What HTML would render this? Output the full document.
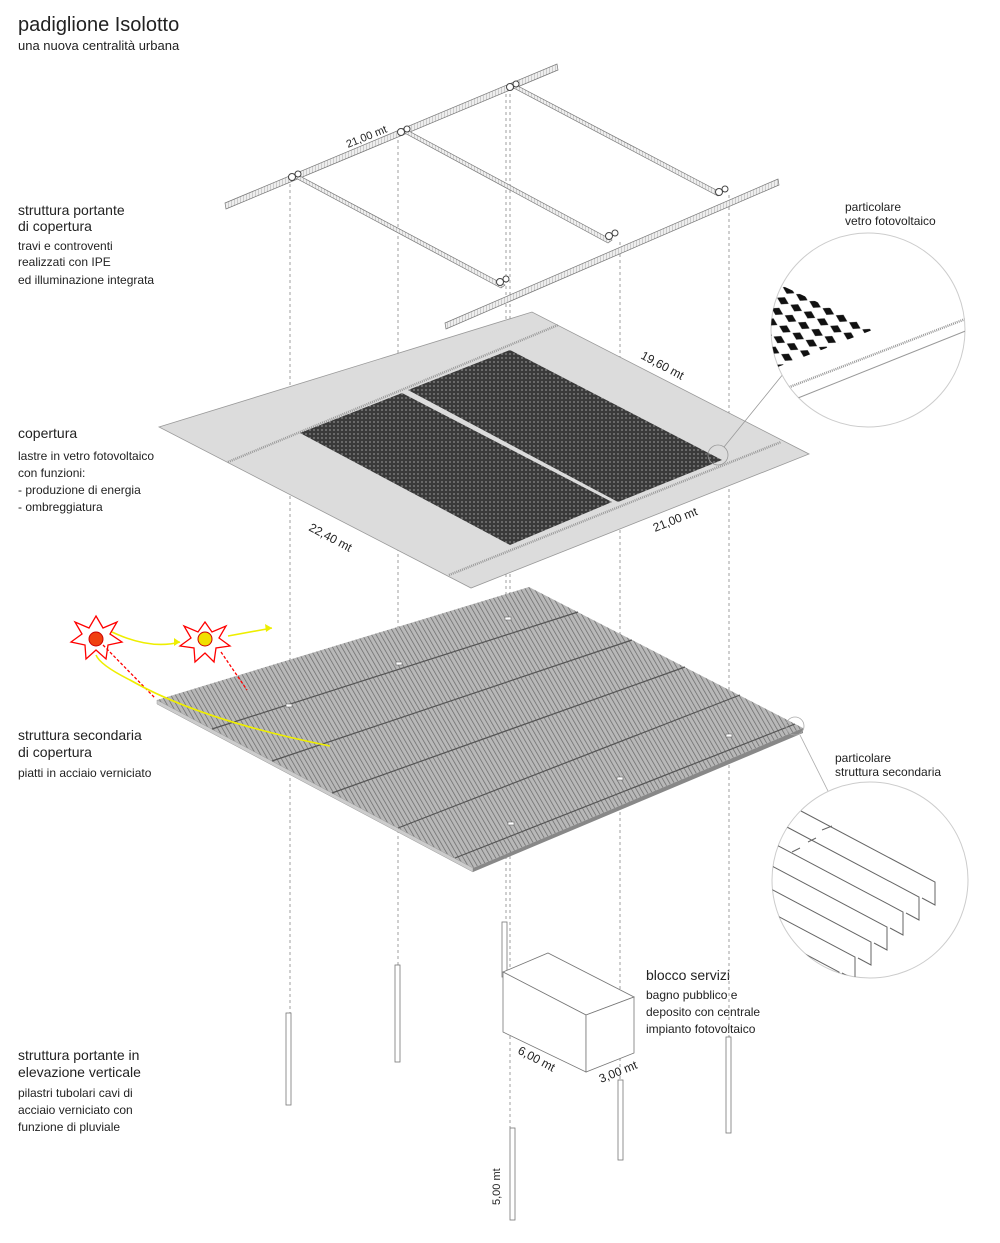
<!DOCTYPE html>
<html><head><meta charset="utf-8"><style>
body{margin:0;background:#fff;}
svg{display:block;}
text{font-family:"Liberation Sans",sans-serif;fill:#222;}
</style></head><body>
<svg width="1000" height="1243" viewBox="0 0 1000 1243" xmlns="http://www.w3.org/2000/svg">
<defs>
<pattern id="dots" width="4" height="4" patternUnits="userSpaceOnUse"><rect width="4" height="4" fill="#3a3a3a"/><circle cx="2" cy="2" r="0.9" fill="#8a8a8a"/></pattern>
<pattern id="hatch" width="4" height="4" patternUnits="userSpaceOnUse" patternTransform="rotate(-30)"><rect width="4" height="4" fill="#b8b8b8"/><line x1="0" y1="0" x2="0" y2="4" stroke="#666" stroke-width="1.4"/></pattern>
<pattern id="beam" width="3" height="3" patternUnits="userSpaceOnUse"><rect width="3" height="3" fill="#eee"/><line x1="0" y1="0" x2="0" y2="3" stroke="#aaa" stroke-width="1"/></pattern>
<pattern id="diam" width="15" height="12" patternUnits="userSpaceOnUse" patternTransform="rotate(28)"><path d="M1,6 L7.5,2 L14,6 L7.5,10 Z" fill="#111"/></pattern>
</defs>

<text x="18" y="31" font-size="20">padiglione Isolotto</text>
<text x="18" y="50" font-size="13">una nuova centralità urbana</text>

<text x="18" y="215" font-size="14">struttura portante</text>
<text x="18" y="231" font-size="14">di copertura</text>
<text x="18" y="250" font-size="12">travi e controventi</text>
<text x="18" y="266" font-size="12">realizzati con IPE</text>
<text x="18" y="284" font-size="12">ed illuminazione integrata</text>

<text x="18" y="438" font-size="14">copertura</text>
<text x="18" y="460" font-size="12">lastre in vetro fotovoltaico</text>
<text x="18" y="477" font-size="12">con funzioni:</text>
<text x="18" y="494" font-size="12">- produzione di energia</text>
<text x="18" y="511" font-size="12">- ombreggiatura</text>

<text x="18" y="740" font-size="14">struttura secondaria</text>
<text x="18" y="757" font-size="14">di copertura</text>
<text x="18" y="777" font-size="12">piatti in acciaio verniciato</text>

<text x="18" y="1060" font-size="14">struttura portante in</text>
<text x="18" y="1077" font-size="14">elevazione verticale</text>
<text x="18" y="1097" font-size="12">pilastri tubolari cavi di</text>
<text x="18" y="1114" font-size="12">acciaio verniciato con</text>
<text x="18" y="1131" font-size="12">funzione di pluviale</text>

<text x="646" y="980" font-size="14">blocco servizi</text>
<text x="646" y="999" font-size="12">bagno pubblico e</text>
<text x="646" y="1016" font-size="12">deposito con centrale</text>
<text x="646" y="1033" font-size="12">impianto fotovoltaico</text>

<text x="845" y="211" font-size="12">particolare</text>
<text x="845" y="225" font-size="12">vetro fotovoltaico</text>
<text x="835" y="762" font-size="12">particolare</text>
<text x="835" y="776" font-size="12">struttura secondaria</text>

<g stroke="#888" stroke-width="0.8" stroke-dasharray="3,3" fill="none">
<line x1="290" y1="178" x2="290" y2="1015"/>
<line x1="398" y1="134" x2="398" y2="966"/>
<line x1="506" y1="88" x2="506" y2="922"/>
<line x1="510" y1="88" x2="510" y2="1128"/>
<line x1="620" y1="242" x2="620" y2="1080"/>
<line x1="729" y1="195" x2="729" y2="1038"/>
</g>

<g stroke="#777" stroke-width="0.7">
<polygon points="225,203 557,64 558,70 226,209" fill="url(#beam)"/>
<polygon points="445,323 778,179 779,185 446,329" fill="url(#beam)"/>
<polygon points="292,176 296,174 505,285 501,288" fill="url(#beam)"/>
<polygon points="401,131 405,129 612,240 608,243" fill="url(#beam)"/>
<polygon points="510,86 514,84 722,193 718,196" fill="url(#beam)"/>
</g>
<g fill="#fff" stroke="#444" stroke-width="1">
<circle cx="292" cy="177" r="3.5"/><circle cx="298" cy="174" r="3"/>
<circle cx="401" cy="132" r="3.5"/><circle cx="407" cy="129" r="3"/>
<circle cx="510" cy="87" r="3.5"/><circle cx="516" cy="84" r="3"/>
<circle cx="500" cy="282" r="3.5"/><circle cx="506" cy="279" r="3"/>
<circle cx="609" cy="236" r="3.5"/><circle cx="615" cy="233" r="3"/>
<circle cx="719" cy="192" r="3.5"/><circle cx="725" cy="189" r="3"/>
</g>
<text x="348" y="148" font-size="11" transform="rotate(-22 348 148)">21,00 mt</text>

<polygon points="159,427 532,312 809,454 471,588" fill="#dcdcdc" stroke="#999" stroke-width="0.8"/>
<line x1="228" y1="462" x2="558" y2="325" stroke="#999" stroke-width="2.5" stroke-dasharray="1,1"/>
<line x1="449" y1="575" x2="781" y2="442" stroke="#999" stroke-width="2.5" stroke-dasharray="1,1"/>
<polygon points="300,433 402,393 612,502 510,545" fill="url(#dots)"/>
<polygon points="408,390 510,350 722,460 618,502" fill="url(#dots)"/>
<text x="308" y="530" font-size="12" transform="rotate(28 308 530)">22,40 mt</text>
<text x="640" y="358" font-size="12" transform="rotate(28 640 358)">19,60 mt</text>
<text x="655" y="532" font-size="12" transform="rotate(-22 655 532)">21,00 mt</text>
<circle cx="718" cy="455" r="10" fill="none" stroke="#999" stroke-width="0.8"/>
<line x1="724" y1="447" x2="788" y2="368" stroke="#999" stroke-width="0.8"/>

<polygon points="157,700 529,587 803,728 473,868" fill="url(#hatch)"/>
<polygon points="157,700 473,868 473,872 157,704" fill="#ccc" stroke="#999" stroke-width="0.5"/>
<polygon points="473,868 803,728 803,733 473,872" fill="#888"/>
<g stroke="#555" stroke-width="1.2">
<line x1="212" y1="729" x2="578" y2="612"/>
<line x1="272" y1="761" x2="632" y2="640"/>
<line x1="332" y1="793" x2="685" y2="667"/>
<line x1="398" y1="828" x2="740" y2="695"/>
<line x1="455" y1="858" x2="795" y2="724"/>
</g>
<g fill="#fff" stroke="#666" stroke-width="0.6">
<rect x="286" y="704" width="6" height="3"/><rect x="396" y="662" width="6" height="3"/><rect x="505" y="617" width="6" height="3"/>
<rect x="508" y="822" width="6" height="3"/><rect x="617" y="777" width="6" height="3"/><rect x="726" y="734" width="6" height="3"/>
</g>
<circle cx="795" cy="726" r="9" fill="none" stroke="#aaa" stroke-width="0.8"/>
<line x1="800" y1="735" x2="830" y2="795" stroke="#aaa" stroke-width="0.8"/>

<g stroke="#f00" stroke-width="1.3" fill="none">
<polygon points="96,616 103,628 117,622 110,634 122,642 108,645 106,659 96,650 86,659 85,645 71,642 82,634 75,622 89,628"/>
<polygon points="205,622 212,632 226,626 219,638 230,646 216,648 214,662 205,653 195,662 194,648 180,646 191,638 184,626 198,632"/>
<line x1="103" y1="645" x2="155" y2="698" stroke-dasharray="3,2"/>
<line x1="221" y1="652" x2="247" y2="690" stroke-dasharray="3,2"/>
</g>
<circle cx="96" cy="639" r="7" fill="#f04010" stroke="#c00"/>
<circle cx="205" cy="639" r="7" fill="#f0e000" stroke="#c00"/>
<g stroke="#ee0" stroke-width="1.6" fill="none">
<path d="M112,632 Q150,650 180,642"/>
<path d="M228,636 L272,628"/>
<path d="M330,746 Q200,720 130,680 Q100,665 96,655"/>
</g>
<polygon points="272,628 265,624 266,632" fill="#ee0"/>
<polygon points="180,642 174,638 174,646" fill="#ee0"/>

<g fill="#fff" stroke="#777" stroke-width="0.8">
<rect x="286" y="1013" width="5" height="92"/>
<rect x="395" y="965" width="5" height="97"/>
<rect x="502" y="922" width="5" height="55"/>
<rect x="510" y="1128" width="5" height="92"/>
<rect x="618" y="1080" width="5" height="80"/>
<rect x="726" y="1037" width="5" height="96"/>
</g>
<text x="500" y="1205" font-size="11" transform="rotate(-90 500 1205)">5,00 mt</text>

<g fill="#fff" stroke="#777" stroke-width="0.8">
<polygon points="503,972 548,953 634,997 586,1015"/>
<polygon points="503,972 586,1015 586,1072 503,1032"/>
<polygon points="586,1015 634,997 634,1053 586,1072"/>
</g>
<text x="517" y="1053" font-size="12" transform="rotate(28 517 1053)">6,00 mt</text>
<text x="601" y="1083" font-size="12" transform="rotate(-22 601 1083)">3,00 mt</text>

<clipPath id="c1"><circle cx="868" cy="330" r="97"/></clipPath>
<clipPath id="tri"><polygon points="770,280 875,329 770,370"/></clipPath>
<circle cx="868" cy="330" r="97" fill="#fff" stroke="#ccc" stroke-width="1"/>
<g clip-path="url(#c1)">
<rect x="760" y="270" width="120" height="110" fill="url(#diam)" clip-path="url(#tri)"/>
<line x1="787" y1="388" x2="968" y2="318" stroke="#999" stroke-width="2.5" stroke-dasharray="1,1"/>
<line x1="793" y1="400" x2="968" y2="330" stroke="#999" stroke-width="1"/>
</g>

<clipPath id="c2"><circle cx="870" cy="880" r="98"/></clipPath>
<circle cx="870" cy="880" r="98" fill="#fff" stroke="#ccc" stroke-width="1"/>
<g clip-path="url(#c2)" fill="none" stroke="#666" stroke-width="1">
<g id="fin"><path d="M801,811 L935,882 L935,905 L922,898"/></g>
<use href="#fin" transform="translate(-16,15)"/>
<use href="#fin" transform="translate(-32,30)"/>
<use href="#fin" transform="translate(-48,45)"/>
<use href="#fin" transform="translate(-64,60)"/>
<use href="#fin" transform="translate(-80,75)"/>
<use href="#fin" transform="translate(-96,90)"/>
<use href="#fin" transform="translate(-112,105)"/>
<use href="#fin" transform="translate(-128,120)"/>
<line x1="822" y1="830" x2="832" y2="826"/>
<line x1="808" y1="842" x2="816" y2="838"/>
<line x1="792" y1="852" x2="800" y2="848"/>
</g>
</svg>
</body></html>
